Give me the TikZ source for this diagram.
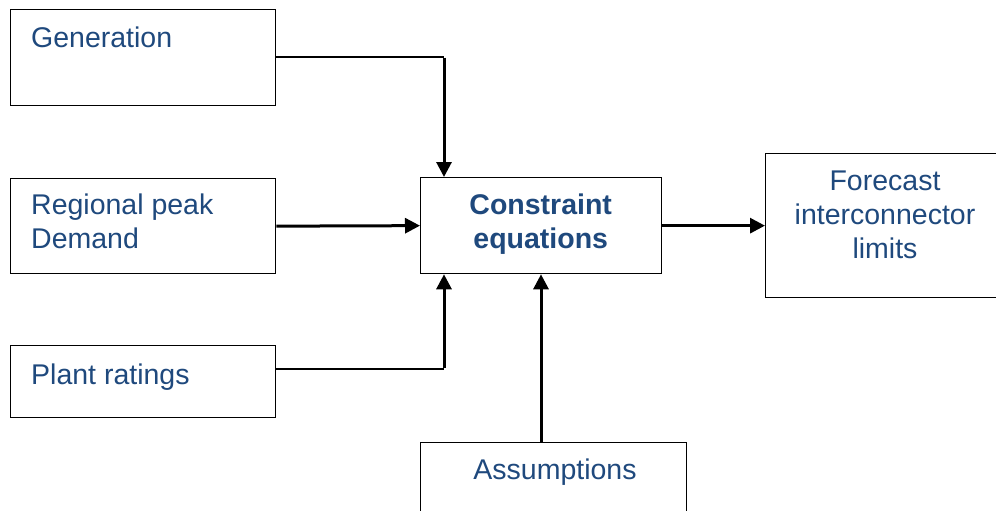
\documentclass[tikz,border=0pt]{standalone}
\usepackage{fontspec}
\setmainfont{Liberation Sans}
\usetikzlibrary{arrows.meta}
\definecolor{txtblue}{HTML}{1F497D}
\begin{document}
\begin{tikzpicture}[x=1pt,y=-1pt,
  box/.style={draw=black,line width=1.3pt,fill=white,inner sep=0pt,anchor=north west},
  lbl/.style={text=txtblue,font=\fontsize{28.5}{34}\selectfont,inner sep=0pt},
  thinln/.style={line width=1.3pt},
  thickln/.style={line width=3pt},
  arr/.style={line width=3pt,-{Triangle[length=15pt,width=15pt]}}]
\useasboundingbox (0,0) rectangle (996,511);
% boxes
\node[box,minimum width=265pt,minimum height=96pt] (gen) at (10,9) {};
\node[box,minimum width=265pt,minimum height=95pt] (reg) at (10,178) {};
\node[box,minimum width=265pt,minimum height=72pt] (plant) at (10,345) {};
\node[box,minimum width=241pt,minimum height=96pt] (ce) at (420,177) {};
\node[box,minimum width=235pt,minimum height=144pt] (fc) at (765,153) {};
\node[box,minimum width=266pt,minimum height=90pt] (as) at (420,442) {};
% texts
\node[lbl,anchor=base west] (gent) at (31,47.5) {Generation};
\node[lbl,anchor=base west] (regt1) at (31,214.3) {Regional peak};
\node[lbl,anchor=base west] (regt2) at (31,248.3) {Demand};
\node[lbl,anchor=base west] (plantt) at (31,384) {Plant ratings};
\node[lbl,anchor=base,font=\fontsize{28.5}{34}\selectfont\bfseries] (cet1) at (540.7,214) {Constraint};
\node[lbl,anchor=base,font=\fontsize{28.5}{34}\selectfont\bfseries] (cet2) at (540.7,248) {equations};
\node[lbl,anchor=base] (fct1) at (885,190.7) {Forecast};
\node[lbl,anchor=base] (fct2) at (885,224.5) {interconnector};
\node[lbl,anchor=base] (fct3) at (885,258.3) {limits};
\node[lbl,anchor=base] (ast) at (555,479) {Assumptions};
% connectors
\coordinate (c1) at (444,57);
\coordinate (c2) at (444,369);
\coordinate (c3) at (541,0);
\draw[thinln] (gen.east |- c1) -- (c1);
\draw[arr] ([yshift=-0.7pt]c1) -- (ce.north -| c1);
\draw[arr] (reg.east) -- (ce.west);
\draw[thinln] (plant.east |- c2) -- (c2);
\draw[arr] ([yshift=0.7pt]c2) -- (ce.south -| c2);
\draw[arr] (as.north -| c3) -- (ce.south -| c3);
\draw[arr] (ce.east) -- (fc.west);
\end{tikzpicture}
\end{document}
